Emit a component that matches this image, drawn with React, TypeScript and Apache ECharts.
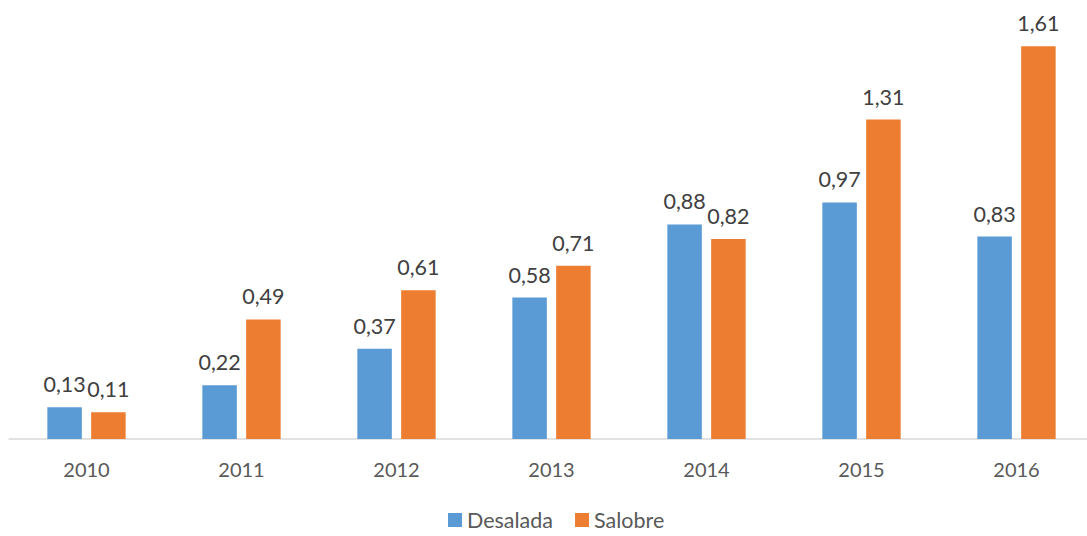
import React, { useEffect, useRef } from "react";
import * as echarts from "echarts";

const categories = ["2010", "2011", "2012", "2013", "2014", "2015", "2016"];
const desalada = [0.13, 0.22, 0.37, 0.58, 0.88, 0.97, 0.83];
const salobre = [0.11, 0.49, 0.61, 0.71, 0.82, 1.31, 1.61];

const fmt = (p: any) => Number(p.value).toFixed(2).replace(".", ",");

export default function App() {
  const ref = useRef<HTMLDivElement>(null);
  useEffect(() => {
    if (!ref.current) return;
    const chart = echarts.init(ref.current, null, { renderer: "svg" });
    const label = {
      show: true,
      position: "top" as const,
      distance: 12,
      formatter: fmt,
      fontFamily: "Lato",
      fontSize: 21.5,
      color: "#404040",
    };
    chart.setOption({
      animation: false,
      backgroundColor: "#ffffff",
      grid: { left: 9, right: 0, top: 0, bottom: 97, containLabel: false },
      legend: {
        bottom: 0,
        left: 443,
        itemWidth: 14,
        itemHeight: 14,
        itemGap: 22,
        icon: "rect",
        textStyle: { fontFamily: "Lato", fontSize: 21.5, color: "#595959" },
        data: ["Desalada", "Salobre"],
      },
      xAxis: {
        type: "category",
        data: categories,
        axisLine: { show: true, lineStyle: { color: "#D9D9D9", width: 1.5 } },
        axisTick: { show: false },
        axisLabel: { margin: 20, fontFamily: "Lato", fontSize: 20, color: "#595959" },
      },
      yAxis: {
        type: "value",
        min: 0,
        max: 1.8,
        show: false,
        splitLine: { show: false },
      },
      series: [
        {
          name: "Desalada",
          type: "bar",
          data: desalada,
          barWidth: 34.5,
          barGap: "27%",
          itemStyle: { color: "#5B9BD5" },
          label,
        },
        {
          name: "Salobre",
          type: "bar",
          data: salobre,
          barWidth: 34.5,
          barGap: "27%",
          itemStyle: { color: "#ED7D31" },
          label,
        },
      ],
    });
    return () => chart.dispose();
  }, []);
  return (
    <div
      style={{
        position: "fixed",
        left: 0,
        top: 0,
        width: 1087,
        height: 536,
        overflow: "hidden",
        background: "#ffffff",
      }}
    >
      <div ref={ref} style={{ width: 1094, height: 536 }} />
    </div>
  );
}
